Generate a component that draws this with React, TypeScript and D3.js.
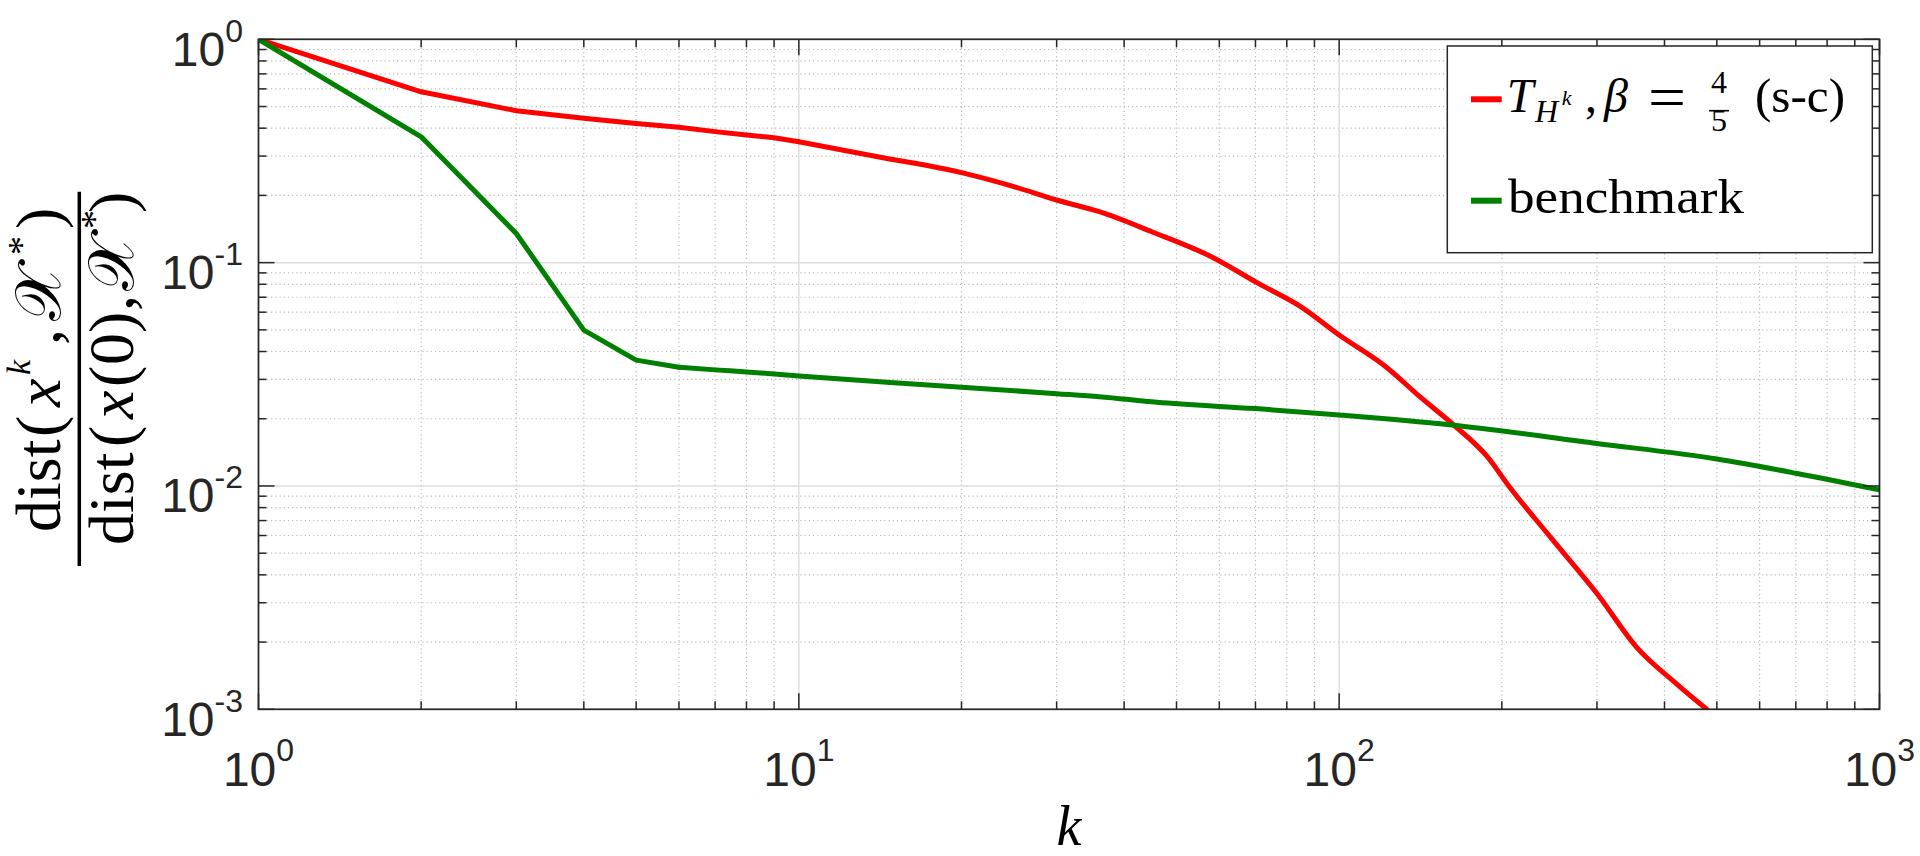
import React, { useEffect } from "react";
import * as d3 from "d3";

// iteration counts and normalised distances
const benchK = [1, 2, 3, 4, 5, 6, 7, 8, 10, 15, 20, 30, 36, 46, 70, 100, 160, 300, 500, 700, 1000];
const benchV = [1, 0.366, 0.135, 0.0499, 0.0366, 0.034, 0.0331, 0.0324, 0.0311, 0.029, 0.0277, 0.0259, 0.0251, 0.0237, 0.0222, 0.0208, 0.0188, 0.0155, 0.0132, 0.0114, 0.0096];

const redK = [1, 2, 3, 4, 5, 6, 7, 8, 9, 10, 14, 20, 25, 30, 36, 45, 58, 71, 85, 100, 122, 141, 163, 188, 206, 246, 300, 355, 421, 479];
const redV = [1, 0.582, 0.479, 0.443, 0.42, 0.4035, 0.386, 0.3727, 0.3626, 0.348, 0.298, 0.253, 0.219, 0.1907, 0.169, 0.1375, 0.1063, 0.0805, 0.0634, 0.0474, 0.0342, 0.0251, 0.01874, 0.01352, 0.01, 0.0059, 0.0033, 0.0019, 0.0013, 0.001];

const xTickExps = [0, 1, 2, 3];
const yTickExps = [0, -1, -2, -3];

const seriesColors = ["#ff0000", "#008000"];

const W = 1920;
const H = 856;
const L = 258.5;
const R = 1879.5;
const T = 39.3;
const B = 709.3;

const axisColor = "#262626";
const sans = "'Liberation Sans', Arial, Helvetica, sans-serif";
const serif = "'Liberation Serif', 'Times New Roman', serif";

function isMajor(v: number) {
  const l = Math.log10(v);
  return Math.abs(l - Math.round(l)) < 1e-9;
}

export default function App() {
  useEffect(() => {
    document.body.style.margin = "0";
  }, []);

  const x = d3.scaleLog().domain([1, 1000]).range([L, R]);
  const y = d3.scaleLog().domain([1e-3, 1]).range([B, T]);

  const xt = x.ticks();
  const yt = y.ticks();

  const straight = d3
    .line<[number, number]>()
    .x((d) => x(d[0]))
    .y((d) => y(d[1]));
  const smooth = d3
    .line<[number, number]>()
    .x((d) => x(d[0]))
    .y((d) => y(d[1]))
    .curve(d3.curveMonotoneX);

  const redPts: [number, number][] = redK.map((k, i) => [k, redV[i]]);
  const benchPts: [number, number][] = benchK.map((k, i) => [k, benchV[i]]);
  // the first few iterations are sharp corners, later ones are dense
  const redHead = redPts.filter((d) => d[0] <= 10);
  const redTail = redPts.filter((d) => d[0] >= 10);
  const benchHead = benchPts.filter((d) => d[0] <= 6);
  const benchTail = benchPts.filter((d) => d[0] >= 6);

  return (
    <svg width={W} height={H} style={{ display: "block", background: "#fff" }}>
      <defs>
        <clipPath id="plot">
          <rect x={L} y={T} width={R - L} height={B - T} />
        </clipPath>
      </defs>
      <rect x={0} y={0} width={W} height={H} fill="#fff" />

      {/* minor grid */}
      <g stroke="#b9b9b9" strokeWidth={1.2} strokeDasharray="1.2 3">
        {xt.filter((v) => !isMajor(v)).map((v) => (
          <line key={"mx" + v} x1={x(v)} x2={x(v)} y1={T} y2={B} />
        ))}
        {yt.filter((v) => !isMajor(v)).map((v) => (
          <line key={"my" + v} x1={L} x2={R} y1={y(v)} y2={y(v)} />
        ))}
      </g>
      {/* major grid */}
      <g stroke="#dedede" strokeWidth={1.5}>
        {xt.filter((v) => isMajor(v)).map((v) => (
          <line key={"gx" + v} x1={x(v)} x2={x(v)} y1={T} y2={B} />
        ))}
        {yt.filter((v) => isMajor(v)).map((v) => (
          <line key={"gy" + v} x1={L} x2={R} y1={y(v)} y2={y(v)} />
        ))}
      </g>

      {/* data */}
      <g clipPath="url(#plot)" fill="none" strokeWidth={5} strokeLinejoin="round" strokeLinecap="round">
        <path d={straight(redHead) || ""} stroke={seriesColors[0]} />
        <path d={smooth(redTail) || ""} stroke={seriesColors[0]} />
        <path d={straight(benchHead) || ""} stroke={seriesColors[1]} />
        <path d={smooth(benchTail) || ""} stroke={seriesColors[1]} />
      </g>

      {/* ticks, inward on every side */}
      <g stroke={axisColor} strokeWidth={1.5}>
        {xt.map((v) => {
          const len = isMajor(v) ? 16 : 8;
          return (
            <g key={"tx" + v}>
              <line x1={x(v)} x2={x(v)} y1={B} y2={B - len} />
              <line x1={x(v)} x2={x(v)} y1={T} y2={T + len} />
            </g>
          );
        })}
        {yt.map((v) => {
          const len = isMajor(v) ? 16 : 8;
          return (
            <g key={"ty" + v}>
              <line x1={L} x2={L + len} y1={y(v)} y2={y(v)} />
              <line x1={R} x2={R - len} y1={y(v)} y2={y(v)} />
            </g>
          );
        })}
      </g>
      <rect x={L} y={T} width={R - L} height={B - T} fill="none" stroke={axisColor} strokeWidth={1.7} />

      {/* tick labels */}
      <g fill={axisColor} fontFamily={sans}>
        {xTickExps.map((e) => (
          <text key={"lx" + e} x={x(Math.pow(10, e))} y={786} textAnchor="middle" fontSize={48}>
            10
            <tspan fontSize={32} dy={-25}>{e}</tspan>
          </text>
        ))}
        {yTickExps.map((e) => (
          <text key={"ly" + e} x={243} y={y(Math.pow(10, e)) + 26.5} textAnchor="end" fontSize={48}>
            10
            <tspan fontSize={32} dy={-24}>{e < 0 ? "-" + Math.abs(e) : String(e)}</tspan>
          </text>
        ))}
      </g>

      {/* x label */}
      <text x={(L + R) / 2} y={845} textAnchor="middle" fontFamily={serif} fontStyle="italic" fontSize={56} fill="#000">
        k
      </text>

      {/* y label, a stacked fraction turned on its side */}
      <g transform="translate(79.3,379) rotate(-90)" fill="#000" fontFamily={serif} fontSize={64}>
        <text y={-19.3}>
          <tspan x={-153}>dist</tspan>
          <tspan x={-58}>(</tspan>
          <tspan x={-28} fontStyle="italic">x</tspan>
          <tspan x={4} fontStyle="italic" fontSize={34} dy={-30}>k</tspan>
          <tspan x={34} dy={30}>,</tspan>
          <tspan x={58}>𝒳</tspan>
          <tspan x={124} fontSize={38} dy={-26}>*</tspan>
          <tspan x={150} dy={26}>)</tspan>
        </text>
        <line x1={-187} x2={187.3} y1={0} y2={0} stroke="#000" strokeWidth={3.5} />
        <text y={53.7}>
          <tspan x={-166}>dist</tspan>
          <tspan x={-68}>(</tspan>
          <tspan x={-40} fontStyle="italic">x</tspan>
          <tspan x={-8}>(</tspan>
          <tspan x={14}>0</tspan>
          <tspan x={46}>)</tspan>
          <tspan x={68}>,</tspan>
          <tspan x={88}>𝒳</tspan>
          <tspan x={150} fontSize={38} dy={-26}>*</tspan>
          <tspan x={166} dy={26}>)</tspan>
        </text>
      </g>

      {/* legend */}
      <g>
        <rect x={1447.3} y={46} width={425} height={206.7} fill="#fff" stroke={axisColor} strokeWidth={1.5} />
        <line x1={1471} x2={1501.7} y1={99.3} y2={99.3} stroke={seriesColors[0]} strokeWidth={6} />
        <line x1={1471} x2={1501.7} y1={200.7} y2={200.7} stroke={seriesColors[1]} strokeWidth={6} />
        <g fill="#000" fontFamily={serif}>
          <text x={1506.7} y={111.7} fontSize={48} fontStyle="italic">T</text>
          <text x={1535} y={121.7} fontSize={32} fontStyle="italic">H</text>
          <text x={1561.7} y={105} fontSize={22} fontStyle="italic">k</text>
          <text x={1585} y={111.7} fontSize={48}>,</text>
          <text x={1604} y={111.7} fontSize={48} fontStyle="italic">β</text>
          <text x={1648} y={118} fontSize={62} textLength={38} lengthAdjust="spacingAndGlyphs">=</text>
          <text x={1719} y={93} fontSize={32} textAnchor="middle">4</text>
          <line x1={1709} x2={1729} y1={110.7} y2={110.7} stroke="#000" strokeWidth={1.6} />
          <text x={1719} y={131} fontSize={32} textAnchor="middle">5</text>
          <text x={1755} y={111.7} fontSize={48} textLength={90} lengthAdjust="spacingAndGlyphs">(s-c)</text>
          <text x={1508} y={212.7} fontSize={48} textLength={236} lengthAdjust="spacingAndGlyphs">benchmark</text>
        </g>
      </g>
    </svg>
  );
}
